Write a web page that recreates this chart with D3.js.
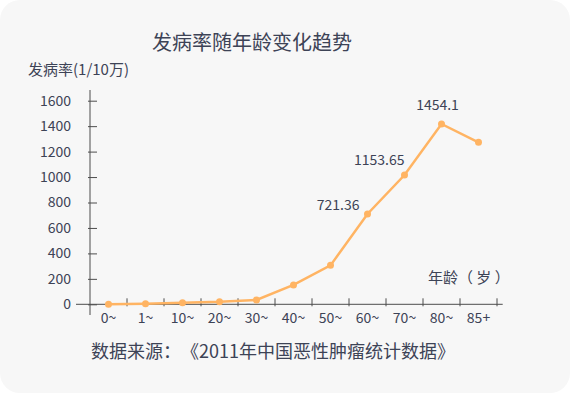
<!DOCTYPE html>
<meta charset="utf-8">
<style>
body { margin: 0; background: #fff; }
text { font-family: "Noto Sans CJK SC", "Noto Sans", sans-serif; fill: #3d4356; text-spacing-trim: space-all; }
.axis line, .axis path { stroke: #4d4d4d; }
</style>
<svg width="570" height="393"></svg>
<script src="https://d3js.org/d3.v7.min.js"></script>
<script>

// age groups and incidence (1/100,000) as drawn
var ages = ["0~", "1~", "10~", "20~", "30~", "40~", "50~", "60~", "70~", "80~", "85+"];
var rates = [0, 5, 13, 20, 34, 152, 306, 710, 1016, 1417, 1273];
var yTicks = [0, 200, 400, 600, 800, 1000, 1200, 1400, 1600];
// annotated values
var noteAges = ["60~", "70~", "80~"];
var noteText = ["721.36", "1153.65", "1454.1"];

var svg = d3.select("svg");

svg.append("rect")
    .attr("width", 570)
    .attr("height", 393)
    .attr("rx", 20)
    .attr("fill", "#f7f7f7");

var x = d3.scaleBand()
    .domain(ages)
    .range([90, 497]);
var y = d3.scaleLinear()
    .domain([0, 1600])
    .range([304.3, 100.7]);

// title + labels
svg.append("text")
    .attr("x", 252)
    .attr("y", 49.5)
    .attr("text-anchor", "middle")
    .attr("font-size", 20)
    .attr("fill", "#363d4f")
    .text("发病率随年龄变化趋势");
svg.append("text")
    .attr("x", 28)
    .attr("y", 74.5)
    .attr("font-size", 15)
    .text("发病率(1/10万)");
svg.append("text")
    .attr("x", 428)
    .attr("y", 283)
    .attr("font-size", 15)
    .text("年龄（ 岁 ）");
svg.append("text")
    .attr("x", 91)
    .attr("y", 358)
    .attr("font-size", 18)
    .text("数据来源：《2011年中国恶性肿瘤统计数据》");

// y axis
var gy = svg.append("g")
    .attr("class", "axis")
    .attr("transform", "translate(90,0)")
    .call(d3.axisLeft(y).tickValues(yTicks).tickFormat(d3.format("d")).tickSize(-7).tickPadding(19));
gy.select(".domain").remove();
gy.selectAll(".tick line").attr("x1", -2);
gy.selectAll(".tick text").attr("font-size", 14).attr("fill", "#3d4356");
gy.append("line")
    .attr("y1", 90).attr("y2", 315);

// x axis
var gx = svg.append("g")
    .attr("class", "axis")
    .attr("transform", "translate(0," + y(0) + ")")
    .call(d3.axisBottom(x).tickSize(0).tickPadding(9));
gx.select(".domain").remove();
gx.selectAll(".tick text").attr("font-size", 14).attr("fill", "#3d4356");
gx.append("line")
    .attr("x1", 76).attr("x2", 502.7);
gx.selectAll(".edge")
    .data(ages)
    .enter().append("line")
    .attr("x1", function(d) { return x(d) + x.bandwidth(); })
    .attr("x2", function(d) { return x(d) + x.bandwidth(); })
    .attr("y1", -6)
    .attr("y2", 2);

// line + dots
var cx = function(d, i) { return x(ages[i]) + x.bandwidth() / 2; };
svg.append("path")
    .datum(rates)
    .attr("fill", "none")
    .attr("stroke", "#ffb463")
    .attr("stroke-width", 2.5)
    .attr("d", d3.line().x(cx).y(function(d) { return y(d); }));
svg.selectAll(".dot")
    .data(rates)
    .enter().append("circle")
    .attr("cx", cx)
    .attr("cy", function(d) { return y(d); })
    .attr("r", 3.5)
    .attr("fill", "#ffb463");

// value notes
var noteDx = [-8, 0, -4];
var noteDy = [-4, -10, -14];
var noteAnchor = ["end", "end", "middle"];
svg.selectAll(".note")
    .data(noteText)
    .enter().append("text")
    .attr("font-size", 14)
    .attr("text-anchor", function(d, i) { return noteAnchor[i]; })
    .attr("x", function(d, i) { return x(noteAges[i]) + x.bandwidth() / 2 + noteDx[i]; })
    .attr("y", function(d, i) { return y(rates[ages.indexOf(noteAges[i])]) + noteDy[i]; })
    .text(function(d) { return d; });

</script>
